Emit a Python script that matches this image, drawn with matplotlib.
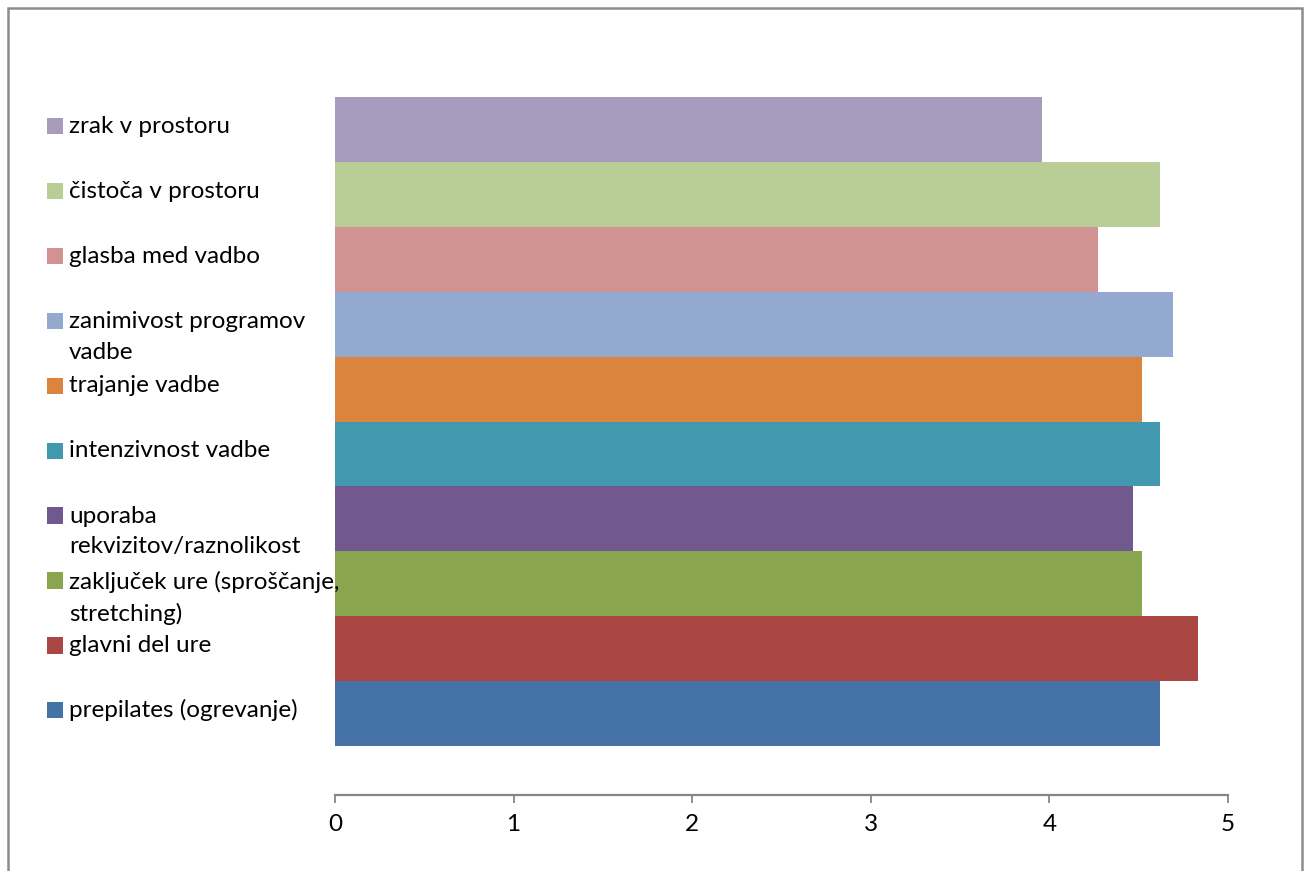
import matplotlib
matplotlib.use("Agg")
import matplotlib.pyplot as plt
import matplotlib.transforms as mtransforms
from matplotlib.patches import Rectangle

plt.rcParams["font.family"] = ["Lato", "DejaVu Sans"]

# od spodaj navzgor
labels = [
    "prepilates (ogrevanje)",
    "glavni del ure",
    "zaključek ure (sproščanje,\nstretching)",
    "uporaba\nrekvizitov/raznolikost",
    "intenzivnost vadbe",
    "trajanje vadbe",
    "zanimivost programov\nvadbe",
    "glasba med vadbo",
    "čistoča v prostoru",
    "zrak v prostoru",
]
values = [4.62, 4.83, 4.52, 4.47, 4.62, 4.52, 4.69, 4.27, 4.62, 3.96]
colors = ["#4572A7", "#AA4643", "#89A54E", "#71588F", "#4198AF",
          "#DB843D", "#93A9CF", "#D19392", "#B9CD96", "#A99BBD"]
xticks = [0, 1, 2, 3, 4, 5]

W, H = 1306, 871
FS = 17.5
fig = plt.figure(figsize=(W / 100, H / 100), dpi=100)
ax = fig.add_axes([335 / W, (H - 795) / H, (1228 - 335) / W, (795 - 48) / H])

ypos = list(range(len(values)))
ax.barh(ypos, values, height=1.0, color=colors, linewidth=0)

gap = 0.755
ax.set_ylim(-0.5 - gap, len(values) - 0.5 + gap)
ax.set_xlim(0, 5)
ax.set_xticks(xticks)
ax.set_xticklabels([str(t) for t in xticks], fontsize=FS)
ax.set_yticks([])
for s in ["top", "right", "left"]:
    ax.spines[s].set_visible(False)
ax.spines["bottom"].set_color("#868686")
ax.spines["bottom"].set_linewidth(1.6)
ax.tick_params(axis="x", direction="out", length=6, width=1.3,
               color="#868686", pad=8, labelcolor="black")

# legenda na levi
trans = mtransforms.blended_transform_factory(fig.transFigure, ax.transData)
for y, lab, col in zip(ypos, labels, colors):
    yy = y + 0.05
    ax.add_patch(Rectangle((47 / W, yy - 0.125), 16 / W, 0.25,
                           transform=trans, color=col, clip_on=False,
                           linewidth=0))
    nlines = lab.count("\n") + 1
    if nlines == 1:
        fig.text(69 / W, yy, lab, transform=trans, fontsize=FS,
                 va="center", ha="left")
    else:
        t = mtransforms.offset_copy(trans, fig=fig, x=0, y=10, units="dots")
        fig.text(69 / W, yy, lab, transform=t, fontsize=FS,
                 va="top", ha="left", linespacing=1.58)

# okvir grafikona
fig.patches.append(Rectangle((8 / W, -0.02), (1302 - 8) / W, (H - 8) / H + 0.02,
                             transform=fig.transFigure, fill=False,
                             edgecolor="#8c8c8c", linewidth=1.8))

fig.savefig("out.png", dpi=100)
